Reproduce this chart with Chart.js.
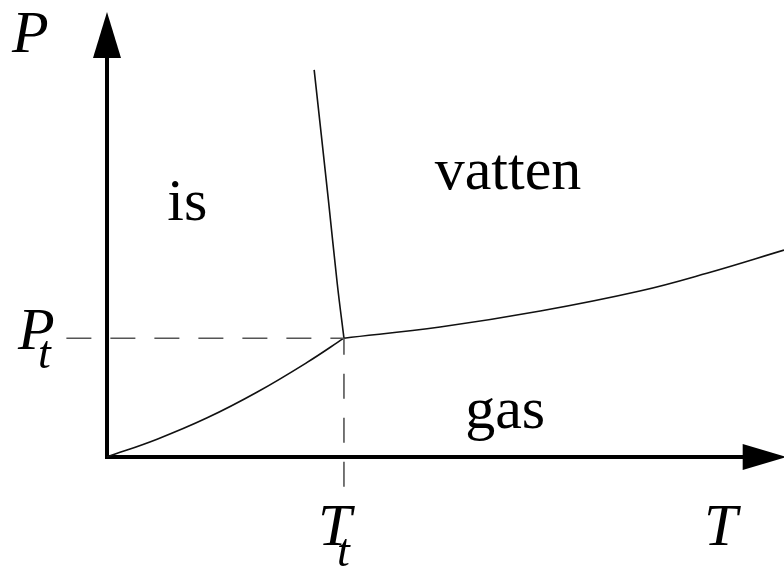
<!DOCTYPE html>
<html>
<head>
<meta charset="utf-8">
<script src="https://cdn.jsdelivr.net/npm/chart.js@4.4.0/dist/chart.umd.min.js"></script>
<style>
  html, body { margin: 0; padding: 0; background: #fff; }
  canvas { display: block; }
</style>
</head>
<body>
<canvas id="fasdiagram" width="784" height="566"></canvas>
<script>
// Fasdiagram för vatten, T och P i godtyckliga enheter (0..100)
const trippelT = 35;
const trippelP = 26.7;

// hjälplinjernas ändar (utanför axlarna)
const streckStartT = -6;
const streckSlutP = -6.7;

const sublimationT = [0, 7.4, 14.8, 22.2, 29.5, 35];
const sublimationP = [0, 4.0, 8.8, 14.6, 21.2, 26.7];

const smaltT = [30.6, 32.7, 34.0, 35];
const smaltP = [87.0, 57.8, 39.1, 26.7];

const kokT = [35, 49.2, 64.0, 78.7, 88.6, 100];
const kokP = [26.7, 29.2, 32.8, 37.3, 41.3, 46.5];

const omradeNamn = ['is', 'vatten', 'gas'];
const omradeT = [8.9, 48.4, 52.9];
const omradeP = [53.3, 60.2, 6.5];

const axelMax = 100;
const axelTipT = 100.4;

const serif = '"Liberation Serif", "Times New Roman", serif';

function punkter(xs, ys) {
  return xs.map((x, i) => ({ x: x, y: ys[i] }));
}

const kurva = {
  showLine: true,
  borderColor: '#111',
  borderWidth: 1.6,
  pointRadius: 0,
  tension: 0.4,
  clip: false
};

const streck = {
  showLine: true,
  borderColor: '#555',
  borderWidth: 1.6,
  borderDash: [25, 19],
  pointRadius: 0,
  clip: false
};

// axlar med pilar + texter
const axlarOchText = {
  id: 'axlarOchText',
  beforeDatasetsDraw(chart) {
    const ctx = chart.ctx;
    const x = chart.scales.x, y = chart.scales.y;
    const x0 = x.getPixelForValue(0), y0 = y.getPixelForValue(0);
    const yTip = y.getPixelForValue(axelMax);
    const xTip = x.getPixelForValue(axelTipT);
    ctx.save();
    ctx.strokeStyle = '#000';
    ctx.fillStyle = '#000';
    ctx.lineWidth = 4;
    ctx.lineCap = 'square';
    ctx.beginPath();
    ctx.moveTo(x0, yTip + 44);
    ctx.lineTo(x0, y0);
    ctx.lineTo(xTip - 42, y0);
    ctx.stroke();
    // pil uppåt
    ctx.beginPath();
    ctx.moveTo(x0, yTip);
    ctx.lineTo(x0 - 14, yTip + 46);
    ctx.lineTo(x0 + 14, yTip + 46);
    ctx.closePath();
    ctx.fill();
    // pil åt höger
    ctx.beginPath();
    ctx.moveTo(xTip, y0);
    ctx.lineTo(xTip - 44, y0 - 13);
    ctx.lineTo(xTip - 44, y0 + 13);
    ctx.closePath();
    ctx.fill();
    ctx.restore();
  },
  afterDraw(chart) {
    const ctx = chart.ctx;
    const x = chart.scales.x, y = chart.scales.y;
    const x0 = x.getPixelForValue(0), y0 = y.getPixelForValue(0);
    const px = x.getPixelForValue(trippelT), py = y.getPixelForValue(trippelP);
    ctx.save();
    ctx.fillStyle = '#000';
    ctx.textAlign = 'left';
    ctx.textBaseline = 'alphabetic';

    ctx.font = '60px ' + serif;
    omradeNamn.forEach((namn, i) => {
      ctx.fillText(namn, x.getPixelForValue(omradeT[i]), y.getPixelForValue(omradeP[i]));
    });

    ctx.font = 'italic 60px ' + serif;
    ctx.fillText('P', x0 - 95, y.getPixelForValue(axelMax) + 40);
    ctx.fillText('T', x.getPixelForValue(axelMax) - 80, y0 + 88);
    ctx.fillText('P', x0 - 89, py + 11);
    ctx.fillText('T', px - 26, y0 + 88);

    ctx.font = 'italic 46px ' + serif;
    ctx.fillText('t', x0 - 69, py + 30);
    ctx.fillText('t', px - 7, y0 + 109);
    ctx.restore();
  }
};

new Chart(document.getElementById('fasdiagram'), {
  type: 'scatter',
  data: {
    datasets: [
      Object.assign({ label: 'Pt', data: [{ x: streckStartT, y: trippelP }, { x: trippelT, y: trippelP }] }, streck),
      Object.assign({ label: 'Tt', data: [{ x: trippelT, y: streckSlutP }, { x: trippelT, y: trippelP }] }, streck),
      Object.assign({ label: 'sublimation', data: punkter(sublimationT, sublimationP) }, kurva),
      Object.assign({ label: 'smältning', data: punkter(smaltT, smaltP) }, kurva),
      Object.assign({ label: 'kokning', data: punkter(kokT, kokP) }, kurva)
    ]
  },
  options: {
    responsive: false,
    animation: false,
    layout: { padding: { left: 107, top: 12, right: 0, bottom: 109 } },
    scales: {
      x: { type: 'linear', min: 0, max: axelMax, display: false },
      y: { type: 'linear', min: 0, max: axelMax, display: false }
    },
    plugins: {
      legend: { display: false },
      tooltip: { enabled: false }
    }
  },
  plugins: [axlarOchText]
});
</script>
</body>
</html>
